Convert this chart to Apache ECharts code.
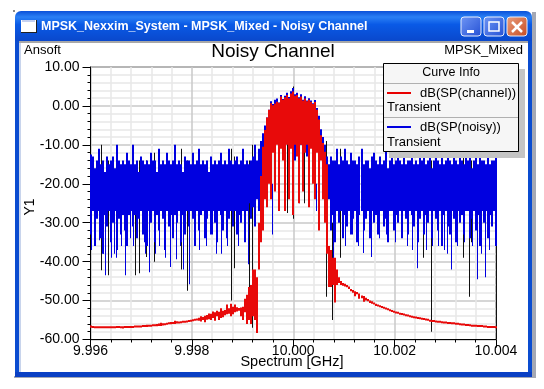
<!DOCTYPE html>
<html>
<head>
    <meta charset="UTF-8">
    <title>Noisy Channel</title>
    <script src="https://cdn.jsdelivr.net/npm/echarts@6/dist/echarts.min.js"></script>
    <style>
        html, body { margin: 0; padding: 0; background: #fff; }
        #chart { width: 544px; height: 389px; }
    </style>
</head>
<body>
    <div id="chart"></div>
    <script>
        // Values, dB per column from 9.996 to 10.004 GHz
        var noisyTop = [
            -12.5,-13,-16,-14,-11,-15,-14,-17,-13,-15,
            -14,-13,-16,-10,-14,-15,-14,-15,-12,-14,
            -15,-10,-15,-14,-17,-13,-14,-15,-14,-15,
            -12,-14,-14,-17,-11,-15,-14,-15,-12,-14,
            -15,-14,-10,-15,-14,-15,-17,-13,-14,-14,
            -15,-12,-15,-14,-11,-15,-14,-15,-14,-17,
            -13,-15,-14,-15,-14,-12,-15,-14,-15,-11,
            -14,-15,-14,-13,-15,-14,-11,-15,-14,-15,
            -14,-13,-10,-14,-11,-9,-7,-5,-3,-1,
            1.2,0.5,1.6,1.9,0.9,2.8,1.8,2.6,3.4,2.3,
            3.8,4.6,3.0,3.4,2.2,3.0,1.6,2.5,1.4,2.0,
            1.4,0.7,1.5,-0.5,-2.5,-6,-8,-10,-13,-15,
            -13,-14,-14,-11,-15,-13,-14,-11,-14,-15,
            -12,-14,-14,-15,-13,-11,-15,-14,-14,-16,
            -13,-12,-14,-15,-13,-15,-14,-11,-16,-14,
            -13,-15,-14,-11,-14,-15,-13,-15,-14,-14,
            -11,-15,-14,-15,-12,-14,-11,-15,-14,-13,
            -16,-14,-11,-14,-15,-13,-15,-14,-11,-14,
            -15,-13,-14,-15,-11,-14,-15,-13,-14,-11,
            -16,-14,-13,-15,-11,-14,-14,-15,-12,-15,
            -14,-14,-12
        ];
        var noisyBot = [
            -33,-27,-36,-29,-27,-34,-38,-28,-31,-27,
            -35,-30,-27,-37,-29,-33,-28,-32,-36,-28,
            -27,-31,-28,-34,-29,-27,-33,-28,-36,-27,
            -30,-27,-35,-28,-32,-27,-29,-37,-27,-31,
            -28,-34,-28,-30,-27,-35,-28,-33,-27,-31,
            -27,-29,-36,-27,-32,-28,-27,-34,-29,-27,
            -33,-27,-30,-35,-27,-28,-32,-27,-34,-29,
            -27,-31,-27,-33,-28,-30,-27,-35,-27,-25,
            -29,-26,-31,-24,-27,-22,-25,-20,-22,-18,
            -9,-8,-10,-7,-9,-8,-7,-12,-8,-7,
            -9,-8,-14,-7,-8,-10,-7,-8,-13,-9,
            -7,-16,-8,-10,-12,-9,-15,-14,-20,-24,
            -32,-28,-35,-27,-30,-27,-34,-28,-31,-27,
            -33,-29,-27,-35,-28,-27,-32,-29,-27,-34,
            -27,-30,-28,-33,-27,-27,-31,-29,-35,-27,
            -27,-32,-28,-30,-27,-34,-27,-29,-33,-27,
            -28,-31,-27,-35,-29,-27,-33,-28,-30,-27,
            -34,-27,-29,-32,-27,-36,-28,-27,-31,-33,
            -27,-29,-35,-27,-30,-28,-33,-27,-27,-34,
            -29,-27,-32,-28,-36,-27,-30,-27,-34,-28,
            -31,-27,-36
        ];
        var channelTop = [
            -56.4,-56.5,-56.6,-56.6,-56.6,-56.6,-56.6,-56.6,-56.6,-56.6,
            -56.6,-56.6,-56.6,-56.5,-56.5,-56.6,-56.6,-56.5,-56.5,-56.5,
            -56.5,-56.5,-56.4,-56.4,-56.4,-56.4,-56.3,-56.3,-56.2,-56.2,
            -56.2,-56.1,-56.1,-56.0,-55.9,-55.7,-55.8,-55.8,-55.7,-55.6,
            -55.5,-55.5,-55.2,-55.3,-55.4,-55.3,-55.2,-55.2,-55.1,-55.0,
            -54.9,-54.8,-54.7,-54.6,-54.4,-54.0,-54.2,-53.9,-53.7,-53.3,
            -53.4,-52.8,-53.0,-52.6,-52.9,-52.0,-52.6,-52.4,-51.0,-52.0,
            -50.8,-51.6,-51.0,-51.7,-51.9,-51.8,-51.6,-49.5,-48.5,-46.5,
            -46,-42,-42,-44,-30,-18,-10.5,-6.2,-3,-1,
            0.7,0.2,0.6,1.1,0.8,2.4,1.6,2.2,2.8,2.0,
            3.2,3.7,2.6,2.8,2.0,2.4,1.4,1.9,1.2,1.6,
            1.1,0.5,1.0,-1,-3.5,-7.5,-9.5,-11.8,-15,-36,
            -37,-39,-39,-42,-44,-45,-45.5,-45.7,-46,-46.4,
            -47,-47.3,-47.6,-47.8,-48.2,-48.7,-48.8,-49.3,-49.6,-50,
            -50.2,-50.5,-50.8,-51,-51.2,-51.4,-51.6,-51.8,-52,-52.2,
            -52.4,-52.6,-52.8,-52.9,-53.1,-53.2,-53.3,-53.5,-53.6,-53.8,
            -53.9,-54,-54.1,-54.2,-54.3,-54.4,-54.5,-54.6,-54.7,-54.9,
            -55,-55,-55.1,-55.2,-55.2,-55.3,-55.4,-55.4,-55.5,-55.5,
            -55.6,-55.6,-55.7,-55.7,-55.8,-55.9,-55.9,-56,-56,-56.1,
            -56.2,-56.2,-56.2,-56.3,-56.3,-56.3,-56.4,-56.4,-56.5,-56.5,
            -56.5,-56.5,-56.6
        ];
        var channelBot = [
            -57,-57,-57,-57.1,-57.1,-57.1,-57.1,-57.1,-57.1,-57.1,
            -57.1,-57.1,-57.1,-57,-57,-57.1,-57.2,-57,-57,-57,
            -57,-56.9,-56.9,-56.9,-56.9,-56.9,-56.8,-56.7,-56.8,-56.7,
            -56.7,-56.6,-56.6,-56.6,-56.5,-56.5,-56.4,-56.3,-56.2,-56.1,
            -56.1,-56,-56,-55.9,-55.8,-55.7,-55.7,-55.6,-55.5,-55.5,
            -55.4,-55.3,-55.2,-55.1,-55.2,-55.4,-55,-55.6,-54.9,-54.8,
            -55,-54.5,-55.2,-54,-55,-54.5,-54.3,-53.8,-53.5,-53.4,
            -54,-53.5,-53,-52.8,-52.6,-54,-55,-53,-56,-55,
            -56,-54,-55,-58.3,-42,-35,-32,-24,-26,-20,
            -24,-12,-22,-10,-27,-11,-14,-27,-10,-24,
            -11,-28,-10,-13,-25,-10,-22,-12,-10,-26,
            -11,-20,-24,-12,-32,-14,-24,-30,-38,-46.5,
            -46.5,-46,-50.5,-46,-45.5,-46,-46.2,-46.4,-46.6,-47,
            -47.6,-48,-48.9,-48.4,-49.5,-49.4,-50.3,-50,-50.2,-50.6,
            -50.8,-51,-51.4,-51.5,-51.7,-51.9,-52.1,-52.3,-52.4,-52.6,
            -52.8,-53,-53.1,-53.2,-53.4,-53.5,-53.6,-53.8,-53.9,-54.1,
            -54.2,-54.3,-54.4,-54.5,-54.6,-54.7,-54.8,-54.9,-55,-55.2,
            -55.3,-55.3,-55.4,-55.5,-55.5,-55.6,-55.7,-55.7,-55.8,-55.8,
            -55.9,-55.9,-56,-56,-56.1,-56.2,-56.2,-56.3,-56.3,-56.4,
            -56.5,-56.5,-56.5,-56.6,-56.6,-56.6,-56.7,-56.7,-56.8,-56.8,
            -56.8,-56.8,-56.9
        ];

        // Long downward spikes that stand out of the blue band
        var blueSpikeFreq = [
            9.9963, 9.99648, 9.9967, 9.99717, 9.99729, 9.99757, 9.99769, 9.99784, 9.99796, 9.99859, 9.99911, 9.9996, 9.99985,
            10.00012, 10.00045, 10.00052, 10.0008, 10.00139, 10.00155, 10.00201, 10.00246, 10.00274, 10.00299, 10.00313, 10.00364, 10.0038,
            9.99601, 9.99609, 9.99617, 9.99625, 9.99642, 9.99652, 9.99662, 9.99678, 9.99684, 9.99706, 9.99709, 9.99737, 9.99747, 9.99777,
            9.99808, 9.99816, 9.99828, 9.9984, 9.99848, 9.99871, 9.99891, 10.00104, 10.00116, 10.00128, 10.00171, 10.00183, 10.00226,
            10.00236, 10.00262, 10.00286, 10.00293, 10.00305, 10.00325, 10.00337, 10.00353, 10.00372, 10.00388
        ];
        var blueSpikeLow = [
            -43.5, -38, -43.5, -42.7, -38, -41.4, -39.4, -42, -45.8, -38, -40.7, -33, -24,
            -25, -27, -24, -41, -37.8, -38.8, -35, -41.7, -36, -37, -42, -44.5, -44,
            -37, -33, -34.5, -38, -39, -39, -36, -34, -36, -35, -38, -36, -39, -36,
            -36, -37, -36, -33, -38, -36, -36, -36, -33, -36, -34, -33, -36,
            -37, -37, -36, -36, -38, -36, -35, -36, -38, -37
        ];
        var blackSpikeFreq = [9.99622, 9.99636, 9.99688, 9.99696, 9.99711, 9.99726, 9.9978, 9.99792, 9.99878, 9.99885, 9.99913, 9.9992, 9.99988, 10.0, 10.00023, 10.00066, 10.00078, 10.00094, 10.00256, 10.00272, 10.00347, 10.00335, 10.00352, 10.004];
        var blackSpikeTop = [-10, -14, -16, -14, -14, -12, -11, -14, -11, -13, -14, -10, 1, 5, 2, -9, -30, -11, -12, -14, -11, -13, -14, -11];
        var blackSpikeLow = [-42.2, -43.5, -43.5, -43, -38.8, -40, -42, -47.5, -50, -41.7, -55, -57, -27.5, -29, -25, -49, -55, -39, -39, -58, -49, -39, -35, -60];

        var curveNames = ['dB(SP(channel))', 'dB(SP(noisy))'];
        var yTicks = { min: -60, max: 10, step: 10 };
        var xTicks = { min: 9.996, max: 10.004, step: 0.002 };

        var chart = echarts.init(document.getElementById('chart'));

        // Each column: freq, upper dB, lower dB
        function columns(top, bot) {
            var rows = [];
            for (var i = 0; i < top.length; i++) {
                rows.push([xTicks.min + i * (xTicks.max - xTicks.min) / (top.length - 1), top[i], bot[i]]);
            }
            return rows;
        }
        function spikes(freq, top, low) {
            return freq.map(function (f, i) { return [f, top ? top[i] : -20, low[i]]; });
        }
        function drawColumn(color, width, minHeight) {
            return function (params, api) {
                var a = api.coord([api.value(0), api.value(1)]);
                var b = api.coord([api.value(0), api.value(2)]);
                return {
                    type: 'rect',
                    shape: { x: Math.round(a[0] - width / 2), y: a[1], width: width, height: Math.max(b[1] - a[1], minHeight) },
                    style: { fill: color }
                };
            };
        }
        function columnSeries(name, rows, color, width, minHeight) {
            return {
                name: name,
                type: 'custom',
                renderItem: drawColumn(color, width, minHeight),
                data: rows,
                encode: { x: 0, y: [1, 2] },
                clip: true,
                silent: true,
                animation: false
            };
        }

        var sans = '"Liberation Sans", Arial, sans-serif';
        function rect(x, y, w, h, fill, z) {
            return { type: 'rect', z: z || 1, silent: true, shape: { x: x, y: y, width: w, height: h }, style: { fill: fill } };
        }
        function text(x, y, str, size, color, align, weight, z) {
            return {
                type: 'text', z: z || 1, silent: true, x: x, y: y,
                style: { text: str, font: (weight || 'normal') + ' ' + size + 'px ' + sans, fill: color, align: align || 'left', verticalAlign: 'middle' }
            };
        }
        function button(x, c1, c2) {
            return {
                type: 'rect', z: 2, silent: true,
                shape: { x: x, y: 17, width: 20, height: 19, r: 3 },
                style: {
                    stroke: '#e8eefc', lineWidth: 1,
                    fill: { type: 'linear', x: 0, y: 0, x2: 1, y2: 1, colorStops: [{ offset: 0, color: c1 }, { offset: 1, color: c2 }] }
                }
            };
        }

        var titleBar = {
            type: 'rect', z: 1, silent: true,
            shape: { x: 15, y: 11, width: 517, height: 30, r: [6, 6, 0, 0] },
            style: {
                fill: {
                    type: 'linear', x: 0, y: 0, x2: 0, y2: 1,
                    colorStops: [
                        { offset: 0, color: '#0a50d8' },
                        { offset: 0.2, color: '#2a80f5' },
                        { offset: 0.45, color: '#0a5ae6' },
                        { offset: 1, color: '#0a48cc' }
                    ]
                }
            }
        };

        var chrome = [
            rect(13, 10, 2, 2, '#8a8a8a'),
            rect(532, 12, 4, 366, '#a4a8b4'),
            rect(14, 376, 522, 2, '#a4a8b4'),
            titleBar,
            rect(15, 41, 4, 336, '#0a4cd0'),
            rect(528, 41, 4, 336, '#0a4cd0'),
            rect(15, 372, 517, 5, '#0a40c4'),
            rect(19, 41, 509, 2, '#a8a8a8'),
            rect(19, 43, 2, 329, '#c8d4ec'),
            rect(21, 20, 16, 13, '#202020'),
            rect(21, 20, 15, 12, '#ffffff'),
            rect(22, 20, 13, 2, '#c4d0f0'),
            text(41, 27, 'MPSK_Nexxim_System - MPSK_Mixed - Noisy Channel', 12.5, '#ffffff', 'left', 'bold', 3),
            button(461, '#6f96f5', '#2450d4'),
            button(484, '#6f96f5', '#2450d4'),
            button(507, '#e9a080', '#c84a20'),
            rect(467, 30, 7, 3, '#ffffff', 3),
            { type: 'rect', z: 3, silent: true, shape: { x: 489, y: 22, width: 10, height: 9 }, style: { fill: 'none', stroke: '#ffffff', lineWidth: 1.5 } },
            { type: 'line', z: 3, silent: true, shape: { x1: 512, y1: 22, x2: 522, y2: 32 }, style: { stroke: '#ffffff', lineWidth: 2.5 } },
            { type: 'line', z: 3, silent: true, shape: { x1: 522, y1: 22, x2: 512, y2: 32 }, style: { stroke: '#ffffff', lineWidth: 2.5 } },
            text(24, 50, 'Ansoft', 13, '#000000'),
            text(523, 50, 'MPSK_Mixed', 13, '#000000', 'right'),
            text(292, 362, 'Spectrum [GHz]', 14.5, '#000000', 'center', 'normal', 3),
            { type: 'text', z: 1, silent: true, x: 30, y: 207, rotation: Math.PI / 2,
              style: { text: 'Y1', font: '14px ' + sans, fill: '#000', align: 'center', verticalAlign: 'middle' } }
        ];

        // Curve Info box sits over the plot
        var L = 60;
        var curveInfo = [
            rect(389, 69, 136, 89, '#c4c4c4', L),
            { type: 'rect', z: L + 1, silent: true, shape: { x: 383.5, y: 63.5, width: 135, height: 88 }, style: { fill: '#f6f6f6', stroke: '#000000', lineWidth: 1 } },
            rect(384, 83, 134, 1, '#b0b0b0', L + 2),
            rect(384, 117, 134, 1, '#b0b0b0', L + 2),
            text(451, 73, 'Curve Info', 12.5, '#000000', 'center', 'normal', L + 2),
            rect(387, 92, 24, 2, '#e80000', L + 2),
            text(420, 93, curveNames[0], 13, '#000000', 'left', 'normal', L + 2),
            text(387, 107.5, 'Transient', 13, '#000000', 'left', 'normal', L + 2),
            rect(387, 126, 24, 2, '#0000e0', L + 2),
            text(420, 127, curveNames[1], 13, '#000000', 'left', 'normal', L + 2),
            text(387, 142, 'Transient', 13, '#000000', 'left', 'normal', L + 2)
        ];

        var option = {
            animation: false,
            backgroundColor: '#ffffff',
            title: {
                text: 'Noisy Channel',
                left: 273, top: 42, padding: 0, textAlign: 'center',
                textStyle: { fontFamily: sans, fontSize: 19, fontWeight: 'normal', color: '#000' }
            },
            grid: { left: 90.5, top: 67, width: 405.5, height: 272.5, show: true, borderColor: '#000', borderWidth: 1, backgroundColor: 'transparent' },
            xAxis: {
                type: 'value',
                min: xTicks.min, max: xTicks.max, interval: xTicks.step,
                axisLine: { onZero: false, lineStyle: { color: '#000' } },
                axisTick: { length: 8, lineStyle: { color: '#000' } },
                minorTick: { show: true, splitNumber: 5, length: 3, lineStyle: { color: '#000' } },
                splitLine: { show: true, lineStyle: { color: '#c8c8c8', width: 1.5 } },
                minorSplitLine: { show: true, lineStyle: { color: '#e8e8e8', width: 1.5 } },
                axisLabel: {
                    fontFamily: sans, fontSize: 14, color: '#000', margin: 5, showMinLabel: true, showMaxLabel: true, hideOverlap: false,
                    formatter: function (v) { return v.toFixed(3); }
                }
            },
            yAxis: {
                type: 'value',
                min: yTicks.min, max: yTicks.max, interval: yTicks.step,
                axisLine: { onZero: false, lineStyle: { color: '#000' } },
                axisTick: { length: 8, lineStyle: { color: '#000' } },
                minorTick: { show: true, splitNumber: 5, length: 3, lineStyle: { color: '#000' } },
                splitLine: { show: true, lineStyle: { color: '#c8c8c8', width: 1.5 } },
                minorSplitLine: { show: true, lineStyle: { color: '#e8e8e8', width: 1.5 } },
                axisLabel: {
                    fontFamily: sans, fontSize: 14, color: '#000', margin: 11, showMinLabel: true, showMaxLabel: true, hideOverlap: false,
                    formatter: function (v) { return v.toFixed(2); }
                }
            },
            series: [
                columnSeries('spikes', spikes(blackSpikeFreq, blackSpikeTop, blackSpikeLow), '#101010', 1, 1),
                columnSeries(curveNames[1], columns(noisyTop, noisyBot), '#0000e0', 2, 1),
                columnSeries(curveNames[1] + ' spikes', spikes(blueSpikeFreq, null, blueSpikeLow), '#0000e0', 1, 1),
                columnSeries(curveNames[0], columns(channelTop, channelBot), '#e80a0a', 2, 2)
            ],
            graphic: { elements: chrome.concat(curveInfo) }
        };
        chart.setOption(option);
    </script>
</body>
</html>
